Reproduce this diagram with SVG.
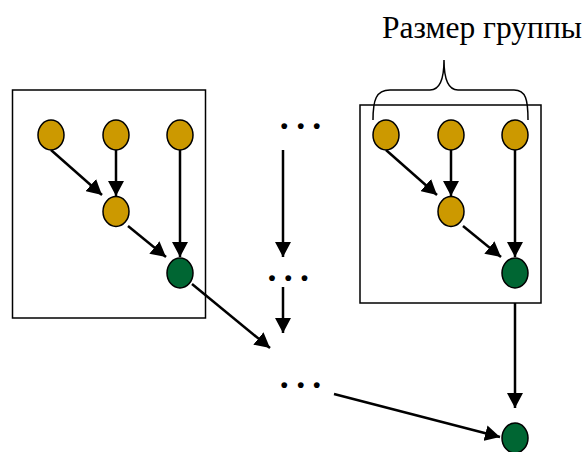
<svg xmlns="http://www.w3.org/2000/svg" width="586" height="452" viewBox="0 0 586 452">
<style>
.box{fill:#fff;stroke:#000;stroke-width:1.5}
.y{fill:#CC9900;stroke:#000;stroke-width:1.5}
.g{fill:#006633;stroke:#000;stroke-width:1.5}
.c{stroke:#000;stroke-width:2.5;fill:none}
.a{marker-end:url(#ah)}
.dots{font-family:"Liberation Serif",serif;font-size:36px;font-weight:bold;fill:#000}
.lbl{font-family:"Liberation Serif",serif;font-size:31.5px;fill:#000}
</style>
<defs>
<marker id="ah" markerUnits="userSpaceOnUse" markerWidth="16" markerHeight="16" refX="15" refY="8" orient="auto">
<path d="M0,0 L15,8 L0,16 z" fill="#000"/>
</marker>
</defs>
<g id="group1">
<rect class="box" x="12.5" y="90" width="193" height="228"/>
</g>
<g id="group2">
<rect class="box" x="360" y="105" width="181" height="198"/>
</g>
<g id="label">
<text class="lbl" x="382" y="38">Размер группы</text>
<path d="M373,120 C373,100 376,90 390,90 L430,90 C440,90 444,80 444,60 C444,80 448,90 458,90 L514,90 C526,90 528,100 528,120" fill="none" stroke="#000" stroke-width="1.5"/>
</g>
<g id="connectors">
<line class="c a" x1="51" y1="150" x2="102" y2="195"/>
<line class="c a" x1="116" y1="150" x2="116" y2="196"/>
<line class="c a" x1="180" y1="150" x2="180" y2="257"/>
<line class="c a" x1="128" y1="226" x2="166" y2="257"/>
<line class="c a" x1="192" y1="284" x2="270" y2="348"/>
<line class="c a" x1="386" y1="150" x2="437" y2="195"/>
<line class="c a" x1="451" y1="150" x2="451" y2="196"/>
<line class="c a" x1="515" y1="150" x2="515" y2="257"/>
<line class="c a" x1="463" y1="226" x2="501" y2="257"/>
<line class="c a" x1="283" y1="150" x2="283" y2="257"/>
<line class="c a" x1="283" y1="287" x2="283" y2="333"/>
<line class="c a" x1="515" y1="303" x2="515" y2="408"/>
<line class="c a" x1="334" y1="394" x2="500" y2="437"/>
</g>
<g id="dots1"><text class="dots" x="279.8 296.2 312.2" y="128.5">...</text></g>
<g id="dots2"><text class="dots" x="267.5 283.7 300" y="280.5">...</text></g>
<g id="dots3"><text class="dots" x="279.8 296.2 312.2" y="387.5">...</text></g>
<g id="n1"><ellipse class="y" cx="51" cy="135" rx="13" ry="15"/></g>
<g id="n2"><ellipse class="y" cx="116" cy="135" rx="13" ry="15"/></g>
<g id="n3"><ellipse class="y" cx="180" cy="135" rx="13" ry="15"/></g>
<g id="n4"><ellipse class="y" cx="116" cy="211.5" rx="13" ry="15"/></g>
<g id="n5"><ellipse class="g" cx="180" cy="273" rx="13" ry="15"/></g>
<g id="n6"><ellipse class="y" cx="386" cy="135" rx="13" ry="15"/></g>
<g id="n7"><ellipse class="y" cx="451" cy="135" rx="13" ry="15"/></g>
<g id="n8"><ellipse class="y" cx="515" cy="135" rx="13" ry="15"/></g>
<g id="n9"><ellipse class="y" cx="451" cy="211.5" rx="13" ry="15"/></g>
<g id="n10"><ellipse class="g" cx="515" cy="273" rx="13" ry="15"/></g>
<g id="n11"><ellipse class="g" cx="515" cy="438" rx="13" ry="15"/></g>
</svg>
